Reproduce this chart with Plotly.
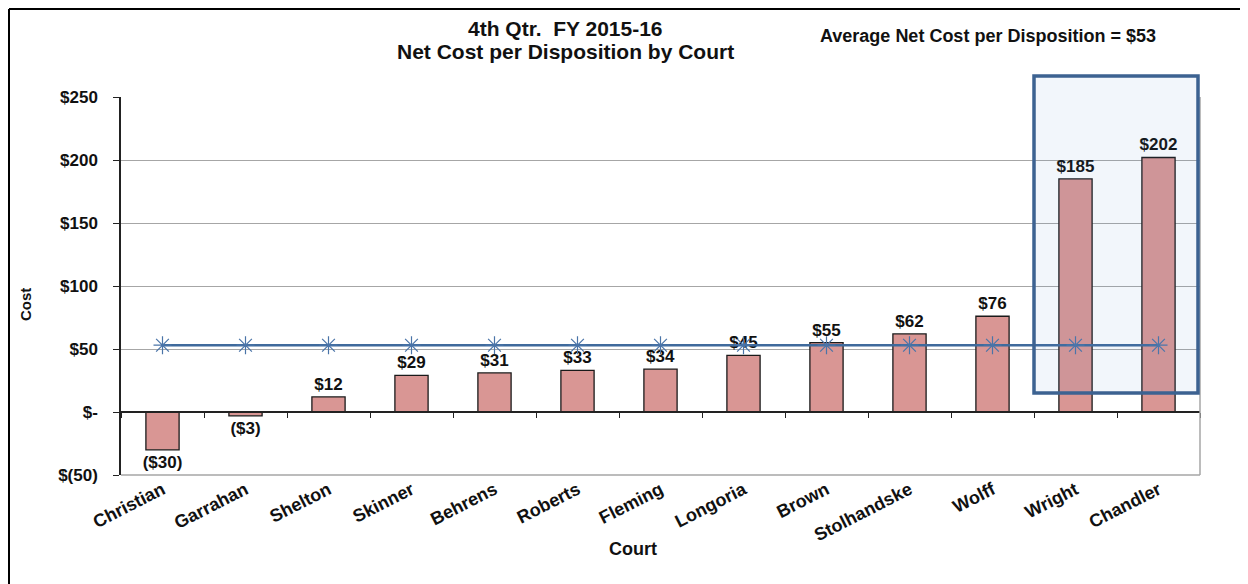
import plotly.graph_objects as go

courts = ["Christian", "Garrahan", "Shelton", "Skinner", "Behrens", "Roberts", "Fleming",
          "Longoria", "Brown", "Stolhandske", "Wolff", "Wright", "Chandler"]
net_cost = [-30, -3, 12, 29, 31, 33, 34, 45, 55, 62, 76, 185, 202]
average_cost = 53
y_tick_vals = [-50, 0, 50, 100, 150, 200, 250]
y_tick_text = ["$(50)", "$-", "$50", "$100", "$150", "$200", "$250"]
title_lines = ["4th Qtr.&nbsp; FY 2015-16", "Net Cost per Disposition by Court"]

labels = [f"(${-v})" if v < 0 else f"${v}" for v in net_cost]

# page offset (browser body margin)
OFF = 8
W, H = 1248 - OFF, 584 - OFF
L, R, T, B = 121 - OFF, 1200 - OFF, 97 - OFF, 475 - OFF
pw, ph = R - L, B - T


def px(x):
    return (x - OFF - L) / pw


def py(y):
    return (B - (y - OFF)) / ph


fig = go.Figure()
fig.add_trace(go.Bar(
    x=courts, y=net_cost, width=0.4,
    marker=dict(color="#D99694", line=dict(color="#1a1a1a", width=1.3)),
    text=labels, texttemplate="<b>%{text}</b>", textposition="outside", cliponaxis=False,
    constraintext="none",
    textfont=dict(family="Arial", size=17, color="#111"),
    hoverinfo="skip", showlegend=False,
))
fig.add_trace(go.Scatter(
    x=courts, y=[average_cost] * len(courts), mode="lines+markers",
    line=dict(color="#3F6A9C", width=2.5),
    marker=dict(symbol="asterisk-open", size=15, color="#4A74A8", line=dict(width=1.2, color="#4A74A8")),
    showlegend=False, hoverinfo="skip",
))
# invisible trace to drive the zero-line axis
fig.add_trace(go.Scatter(x=courts, y=[0] * len(courts), xaxis="x2", mode="markers",
                         marker=dict(opacity=0), showlegend=False, hoverinfo="skip"))

zero_pos = (0 - (-50)) / 300

fig.update_layout(
    width=W, height=H,
    margin=dict(l=L, r=W - R, t=T, b=H - B, autoexpand=False),
    plot_bgcolor="white", paper_bgcolor="white",
    font=dict(family="Arial", color="#111"),
    xaxis=dict(
        categoryorder="array", categoryarray=courts, range=[-0.5, 12.5],
        tickvals=courts, ticktext=[f"<b>{c}</b>" for c in courts],
        showgrid=False, showline=False, ticks="", zeroline=False, automargin=False,
        tickangle=-27, tickfont=dict(family="Arial", size=18, color="#111"),
    ),
    xaxis2=dict(
        overlaying="x", anchor="free", position=zero_pos, matches="x",
        categoryorder="array", categoryarray=courts,
        showticklabels=False, showgrid=False, zeroline=False,
        showline=True, linecolor="#222", linewidth=1.5,
        ticks="outside", tickson="boundaries", ticklen=5, tickcolor="#222", tickwidth=1.2,
    ),
    yaxis=dict(
        range=[-50, 250], tickvals=y_tick_vals, ticktext=[f"<b>{t}</b>" for t in y_tick_text],
        showgrid=True, gridcolor="#A6A6A6", gridwidth=1.2, zeroline=False, automargin=False,
        showline=True, linecolor="#222", linewidth=1.5,
        ticks="outside", ticklen=6, tickcolor="#222", ticklabelstandoff=12,
        tickfont=dict(family="Arial", size=17, color="#111"),
    ),
)

for line_text, yc in zip(title_lines, [28, 51]):
    fig.add_annotation(xref="paper", yref="paper", x=px(565), y=py(yc), xanchor="center", yanchor="middle",
                       showarrow=False, text=f"<b>{line_text}</b>",
                       font=dict(family="Arial", size=21, color="#111"))
fig.add_annotation(xref="paper", yref="paper", x=px(988), y=py(36), xanchor="center", yanchor="middle",
                   showarrow=False,
                   text=f"<b>Average Net Cost per Disposition = ${average_cost}</b>",
                   font=dict(family="Arial", size=18, color="#111"))
fig.add_annotation(xref="paper", yref="paper", x=px(25), y=py(305), xanchor="center", yanchor="middle",
                   showarrow=False, text="<b>Cost</b>", textangle=-90,
                   font=dict(family="Arial", size=15, color="#111"))
fig.add_annotation(xref="paper", yref="paper", x=px(633), y=py(549), xanchor="center", yanchor="middle",
                   showarrow=False, text="<b>Court</b>", font=dict(family="Arial", size=18, color="#111"))

# plot-area gray border (right and bottom)
fig.add_shape(type="line", xref="paper", yref="paper", x0=1, x1=1, y0=0, y1=1,
              line=dict(color="#A6A6A6", width=1.5))
fig.add_shape(type="line", xref="paper", yref="paper", x0=0, x1=1, y0=0, y1=0,
              line=dict(color="#A6A6A6", width=1.5))
# outer frame (drawn just inside the figure's top-left edge)
fig.add_shape(type="line", xref="paper", yref="paper", x0=px(9), x1=px(9), y0=py(9), y1=py(600),
              line=dict(color="#000", width=2))
fig.add_shape(type="line", xref="paper", yref="paper", x0=px(9), x1=px(1260), y0=py(9), y1=py(9),
              line=dict(color="#000", width=2))
# highlight box around the top two courts
fig.add_shape(type="rect", xref="paper", yref="paper", x0=px(1034), x1=px(1198), y0=py(393), y1=py(76),
              line=dict(color="#3C6291", width=3.5), fillcolor="rgba(90,140,200,0.08)",
              layer="above")

fig.write_html("out.html")
